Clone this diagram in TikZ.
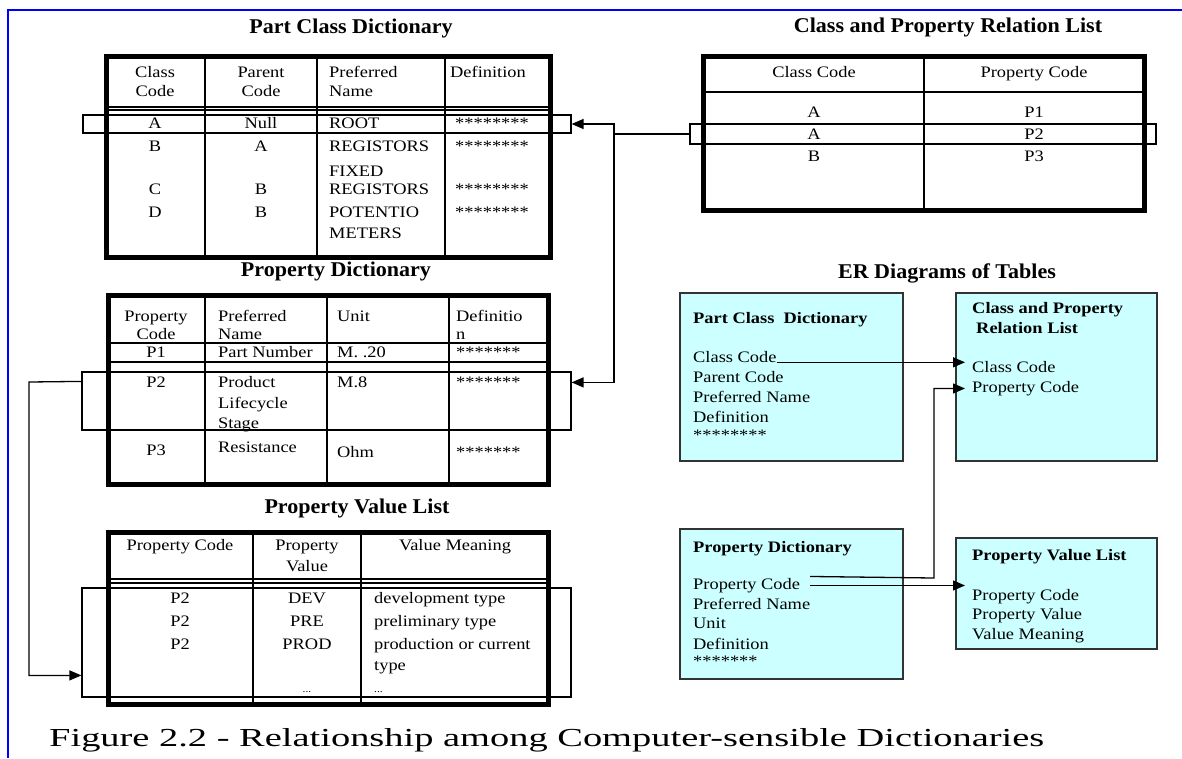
\documentclass[tikz,border=0pt]{standalone}
\usepackage{fontspec}
\usepackage{graphicx}
\setmainfont{Liberation Serif}
\newfontfamily\bodyf{Liberation Serif}[FakeStretch=1.15]
\newfontfamily\titlef{Liberation Serif}[FakeStretch=1.05]
\usetikzlibrary{arrows.meta,calc}
\definecolor{ercyan}{RGB}{204,255,255}
\definecolor{frameblue}{RGB}{0,0,255}
\begin{document}
\begin{tikzpicture}[x=1pt,y=-1pt,
  tb/.style={font=\bodyf\fontsize{16}{19}\selectfont, inner sep=0pt, yshift=-3pt},
  tl/.style={tb, anchor=mid west},
  tc/.style={tb, anchor=mid},
  ttl/.style={font=\titlef\bfseries\fontsize{21}{24}\selectfont, inner sep=0pt, anchor=mid, yshift=-4pt},
  outerframe/.style={line width=5pt},
  cell/.style={line width=1.2pt},
  hl/.style={draw, line width=1.2pt, inner sep=0pt},
  link/.style={line width=1.3pt},
  arr/.style={link, -{Triangle[length=12pt,width=10pt]}},
  erbox/.style={draw=black!80, fill=ercyan, line width=1.5pt, inner sep=0pt},
  erb/.style={font=\bodyf\bfseries\fontsize{16}{19}\selectfont, inner sep=0pt, anchor=mid west, yshift=-3pt},
  dots/.style={font=\bodyf\fontsize{10}{12}\selectfont, inner sep=0pt},
]
\useasboundingbox (0,0) rectangle (1182,758);
\fill[white] (0,0) rectangle (1182,758);
% blue frame
\draw[frameblue, line width=2pt] (1182,10) -- (8,10) -- (8,758);

% ---------- titles
\node[ttl] (ttl1) at (351,27) {Part Class Dictionary};
\node[ttl] (ttl2) at (948,26) {Class and Property Relation List};
\node[ttl] (ttl3) at (336,270) {Property Dictionary};
\node[ttl] (ttl4) at (357,507) {Property Value List};
\node[ttl] (ttl5) at (947,272) {ER Diagrams of Tables};

% ---------- Part Class Dictionary table
\draw[outerframe] (106,56) rectangle (550,257);
\draw[cell] (205,56) -- (205,257) (317,56) -- (317,257) (445,56) -- (445,257);
\draw[cell] (106,107) -- (550,107) (106,110) -- (550,110);
\foreach \n/\x/\y/\t in {a1/155/72/Class, a2/155/91/Code, a3/261/72/Parent, a4/261/91/Code,
   a5/155/123/A, a6/261/123/Null, a7/155/146/B, a8/261/146/A,
   a9/155/189/C, a10/261/189/B, a11/155/212/D, a12/261/212/B}
  \node[tc] (\n) at (\x,\y) {\t};
\foreach \n/\x/\y/\t in {b1/329/72/Preferred, b2/329/91/Name, b3/450/72/Definition,
   b4/329/123/ROOT, b5/329/146/REGISTORS, b6/329/171/FIXED, b7/329/189/REGISTORS,
   b8/329/212/POTENTIO, b9/329/233/METERS,
   b10/455/123/********, b11/455/146/********, b12/455/189/********, b13/455/212/********}
  \node[tl] (\n) at (\x,\y) {\t};

% ---------- Class and Property Relation List table
\draw[outerframe] (703,56) rectangle (1144,210);
\draw[cell] (924,56) -- (924,210) (703,92) -- (1144,92);
\foreach \n/\x/\y/\t in {c1/814/72/Class Code, c2/1034/72/Property Code,
   c3/814/112/A, c4/1034/112/P1, c5/814/134/A, c6/1034/134/P2, c7/814/156/B, c8/1034/156/P3}
  \node[tc] (\n) at (\x,\y) {\t};

% ---------- Property Dictionary table
\draw[outerframe] (108,295) rectangle (548,484);
\draw[cell] (205,295) -- (205,484) (327,295) -- (327,484) (449,295) -- (449,484);
\draw[cell] (108,343) -- (548,343) (108,362) -- (548,362) (108,430) -- (548,430);
\foreach \n/\x/\y/\t in {d1/156/316/Property, d2/156/334/Code, d3/156/352/P1, d4/156/382/P2, d5/156/450/P3}
  \node[tc] (\n) at (\x,\y) {\t};
\foreach \n/\x/\y/\t in {e1/218/316/Preferred, e2/218/334/Name, e3/337/316/Unit, e4/456/316/Definitio, e5/456/334/n,
   e6/218/352/Part Number, e7/337/352/M. .20, e8/456/352/*******,
   e9/218/382/Product, e10/218/403/Lifecycle, e11/218/423/Stage, e12/337/382/M.8, e13/456/382/*******,
   e14/218/447/Resistance, e15/337/452/Ohm, e16/456/452/*******}
  \node[tl] (\n) at (\x,\y) {\t};

% ---------- Property Value List table
\draw[outerframe] (108,532) rectangle (548,704);
\draw[cell] (253,532) -- (253,704) (361,532) -- (361,704);
\draw[cell] (108,579) -- (548,579) (108,583) -- (548,583);
\foreach \n/\x/\y/\t in {f1/180/545/Property Code, f2/307/545/Property, f3/307/566/Value, f4/455/545/Value Meaning,
   f5/180/598/P2, f6/307/598/DEV, f7/180/621/P2, f8/307/621/PRE, f9/180/644/P2, f10/307/644/PROD}
  \node[tc] (\n) at (\x,\y) {\t};
\foreach \n/\x/\y/\t in {g1/374/598/development type, g2/374/621/preliminary type,
   g3/374/644/production or current, g4/374/665/type}
  \node[tl] (\n) at (\x,\y) {\t};
\node[dots, anchor=base] (g5) at (307,692) {...};
\node[dots, anchor=base west] (g6) at (374,692) {...};

% ---------- highlight rectangles
\node[hl, minimum width=488pt, minimum height=18pt] (h1) at (327,124) {};
\node[hl, minimum width=466pt, minimum height=20pt] (h2) at (923,134) {};
\node[hl, minimum width=489pt, minimum height=58pt] (h3) at (326.5,401) {};
\node[hl, minimum width=489pt, minimum height=109pt] (h4) at (326.5,642.5) {};

% ---------- table connectors
\coordinate (j1) at (614,134);
\draw[arr] (h2.west) -- (j1) |- (h1.east);
\draw[arr] (j1) |- ($(h3.north east)+(0,11)$);
\coordinate (j2) at (29,382);
\draw[arr] ($(h3.north west)+(0,10)$) -- (j2) |- ($(h4.north west)+(0,88)$);

% ---------- ER diagram boxes
\node[erbox, minimum width=223pt, minimum height=168pt] (er1) at (791.5,377) {};
\node[erbox, minimum width=201pt, minimum height=168pt] (er2) at (1056.5,377) {};
\node[erbox, minimum width=223pt, minimum height=150pt] (er3) at (791.5,604) {};
\node[erbox, minimum width=201pt, minimum height=111pt] (er4) at (1056.5,593.5) {};

\node[erb] (p0) at (693,318) {Part Class\ \ Dictionary};
\foreach \n/\y/\t in {p1/357/Class Code, p2/377/Parent Code, p3/397/Preferred Name, p4/417/Definition, p5/435/********}
  \node[tl] (\n) at (693,\y) {\t};

\node[erb] (q0) at (972,308) {Class and Property};
\node[erb] (q1) at (976,328) {Relation List};
\node[tl] (q2) at (972,367) {Class Code};
\node[tl] (q3) at (972,387) {Property Code};

\node[erb] (r0) at (693,547) {Property Dictionary};
\foreach \n/\y/\t in {r1/584/Property Code, r2/604/Preferred Name, r3/623/Unit, r4/644/Definition, r5/661/*******}
  \node[tl] (\n) at (693,\y) {\t};

\node[erb] (s0) at (972,555) {Property Value List};
\foreach \n/\y/\t in {s1/595/Property Code, s2/614/Property Value, s3/634/Value Meaning}
  \node[tl] (\n) at (972,\y) {\t};

% ---------- ER connectors
\draw[arr] (p1.base east) -- ($(p1.base east -| q2.west)+(-7,0)$);
\coordinate (k1) at (934,578);
\draw[arr] ($(r1.east)+(10,-9)$) -- (k1) |- ($(q3.west)+(-7,0)$);
\draw[arr] ($(r1.east)+(10,0)$) -- ($(r1.east -| s1.west)+(-7,0)$);

% ---------- caption
\node[anchor=base west, inner sep=0pt] (cap) at (49,746)
  {\resizebox{995pt}{18pt}{Figure 2.2 - Relationship among Computer-sensible Dictionaries}};
\end{tikzpicture}
\end{document}
